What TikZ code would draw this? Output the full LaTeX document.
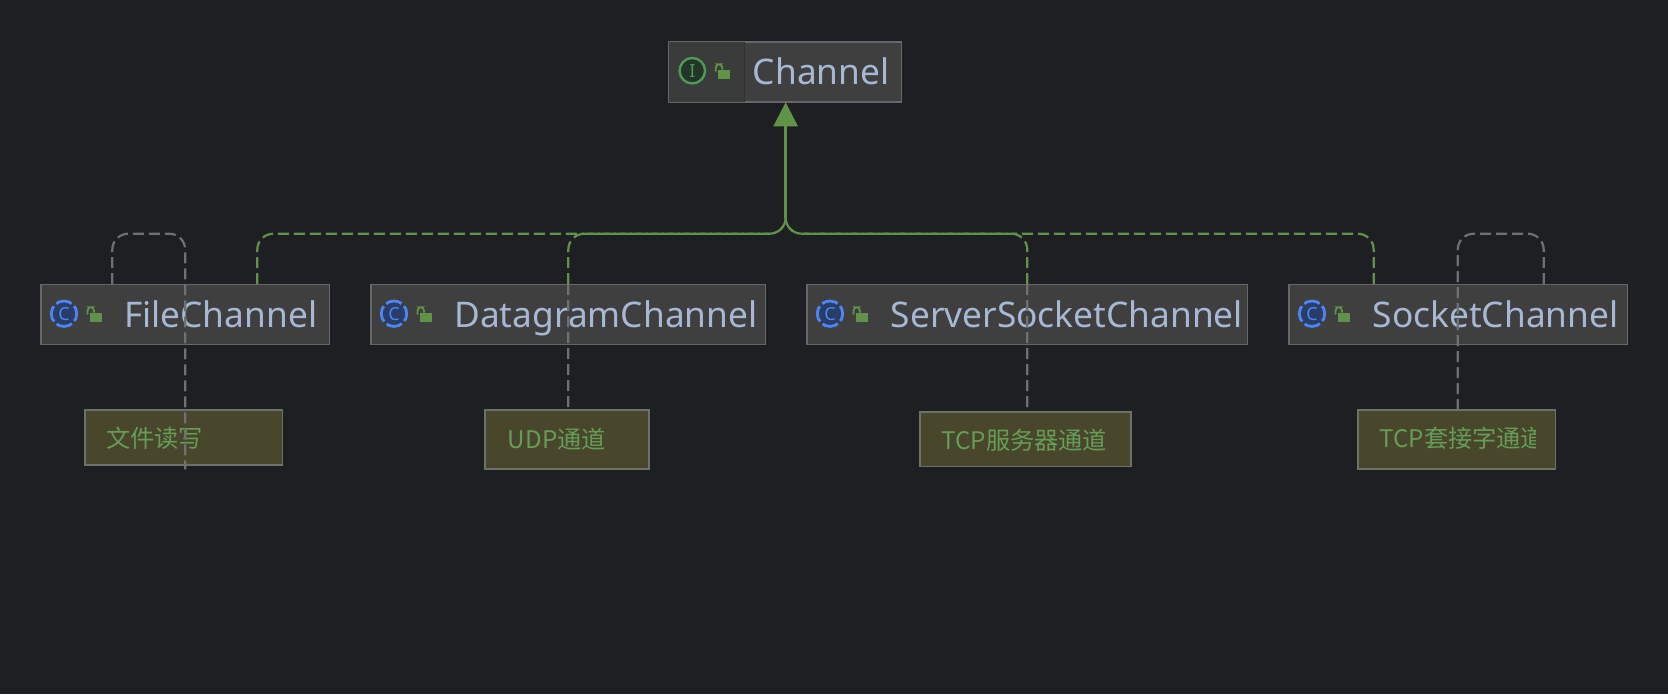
\documentclass[tikz,border=0pt]{standalone}
\usepackage{fontspec}
\setmainfont{Noto Sans}
\newfontfamily\cjk{Noto Sans CJK SC}
\usetikzlibrary{arrows.meta,calc}
\definecolor{bgcol}{HTML}{1E1F22}
\definecolor{boxcol}{HTML}{3F3F3F}
\definecolor{cellcol}{HTML}{3A3B3B}
\definecolor{edgecol}{HTML}{65676A}
\definecolor{namecol}{HTML}{A6B8D4}
\definecolor{notecol}{HTML}{49472B}
\definecolor{noteedge}{HTML}{6E706A}
\definecolor{notetext}{HTML}{659C58}
\definecolor{implcol}{HTML}{5F9448}
\definecolor{linkcol}{HTML}{6F7073}
\definecolor{bluecol}{HTML}{4C86F2}
\definecolor{bluefill}{HTML}{2A3D66}
\definecolor{icongreen}{HTML}{4F9A55}
\definecolor{greenfill}{HTML}{233527}
\tikzset{
    classbox/.style={rectangle, draw=edgecol, fill=boxcol, line width=1.3pt, anchor=north west, minimum height=59.7pt, inner sep=0},
    classname/.style={anchor=base west, inner sep=0, text=namecol, font=\fontsize{35.3}{40}\selectfont},
    notebox/.style={rectangle, draw=noteedge, fill=notecol, line width=1.8pt, anchor=north west, inner sep=0},
    notename/.style={anchor=west, inner sep=0, text=notetext, font=\cjk\fontsize{24.2}{28}\selectfont},
    classicon/.style={circle, draw=bluecol, fill=bluefill, line width=2.8pt, minimum size=25.5pt, inner sep=0, dash pattern=on 16.4pt off 3.6pt, dash phase=8.2pt, text=bluecol, font=\fontsize{18}{18}\selectfont},
    faceicon/.style={circle, draw=icongreen, fill=greenfill, line width=2.4pt, minimum size=25.5pt, inner sep=0, text=icongreen, font=\fontsize{18}{18}\selectfont},
    impl/.style={draw=implcol, line width=2.2pt, dash pattern=on 11pt off 5pt, rounded corners=16pt},
    link/.style={draw=linkcol, line width=2.2pt, dash pattern=on 11pt off 5pt, rounded corners=16pt},
}
\begin{document}
\begin{tikzpicture}[x=1pt,y=-1pt]
    \fill[bgcol] (0,0) rectangle (1668,694);
    \useasboundingbox (0,0) rectangle (1668,694);

    % classes
    \node[classbox, minimum width=232pt] (channel) at (668.5,41.3) {};
    \node[classbox, minimum width=288.4pt] (file) at (40.3,284) {};
    \node[classbox, minimum width=394.4pt] (datagram) at (370.3,284) {};
    \node[classbox, minimum width=440.4pt] (server) at (806.3,284) {};
    \node[classbox, minimum width=338.4pt] (socket) at (1288.3,284) {};
    \fill[cellcol] (channel.north west) rectangle (744,102.3);
    \draw[edgecol, line width=1.3pt] (channel.north west) rectangle (channel.south east);
    \draw[cellcol!80!black, line width=.8pt] (744,42) -- (744,102);

    \node[classname] (channelname) at (752.7,84.3) {Channel};
    \node[classname] (filename) at (124,327.3) {FileChannel};
    \node[classname] (datagramname) at (454.2,327.3) {DatagramChannel};
    \node[classname] (servername) at (890.7,327.3) {ServerSocketChannel};
    \node[classname] (socketname) at (1372.5,327.3) {SocketChannel};

    % icons
    \node[faceicon] (channelicon) at (692.3,70.7) {I};
    \foreach \c/\x in {file/64,datagram/394,server/830,socket/1312}{
        \node[classicon] (\c icon) at (\x,313.7) {C};
    }
    \foreach \x/\y in {692.3/70.7,64/313.7,394/313.7,830/313.7,1312/313.7}{
        \fill[implcol] (\x+26,\y-1) rectangle (\x+38,\y+8);
        \draw[implcol, line width=1.8pt, rounded corners=3.5pt] (\x+23.5,\y+1) -- (\x+23.5,\y-6.5) -- (\x+30,\y-6.5) -- (\x+30,\y-1);
    }

    % notes
    \node[notebox, minimum width=197.6pt, minimum height=55.3pt] (filenote) at (84,408.8) {};
    \node[notebox, minimum width=163.8pt, minimum height=59.2pt] (udpnote) at (484,408.8) {};
    \node[notebox, minimum width=211.2pt, minimum height=54.8pt] (tcpnote) at (919,410.8) {};
    \node[notebox, minimum width=197.6pt, minimum height=59.2pt] (socknote) at (1357,408.8) {};
    \node[notename] (filetext) at (106,438.7) {文件读写};
    \node[notename] (udptext) at (507.7,438.7) {UDP通道};
    \node[notename] (tcptext) at (941.3,440.7) {TCP服务器通道};
    \begin{scope}
        \clip (1379,412) rectangle (1535,468);
        \node[notename] (socktext) at (1379.3,438.7) {TCP套接字通道};
    \end{scope}

    % connectors
    \coordinate (fork) at ($(channel.south)+(.5,116)$);
    \coordinate (bar) at ($(channel.south)+(.5,131.4)$);
    \coordinate (fileend) at ($(filenote.south)+(1.5,3.5)$);
    \coordinate (udpend) at ($(udpnote.north)+(1.5,-1.8)$);
    \coordinate (tcpend) at ($(tcpnote.north)+(1.8,-3.8)$);
    \draw[impl] (file.north west)++(217,0) |- (bar) -- (fork);
    \draw[impl] (datagram.north west)++(198,0) |- (bar) -- (fork);
    \draw[impl] (server.north west)++(221,0) |- (bar) -- (fork);
    \draw[impl] (socket.north west)++(85.4,0) |- (bar) -- (fork);
    \draw[implcol, line width=2.6pt, -{Triangle[length=24pt,width=24pt]}] (fork) -- (channel.south -| fork);

    \draw[link] (file.north west)++(72,0) |- (fileend |- bar) -- (fileend);
    \draw[link] (socket.north west)++(255.4,0) |- ($(socknote.north |- bar)+(1,0)$) -- ($(socknote.north)+(1,0)$);
    \draw[link] (datagram.north west)++(198,0) -- (udpend);
    \draw[link] (server.north west)++(221,0) -- (tcpend);
\end{tikzpicture}
\end{document}
